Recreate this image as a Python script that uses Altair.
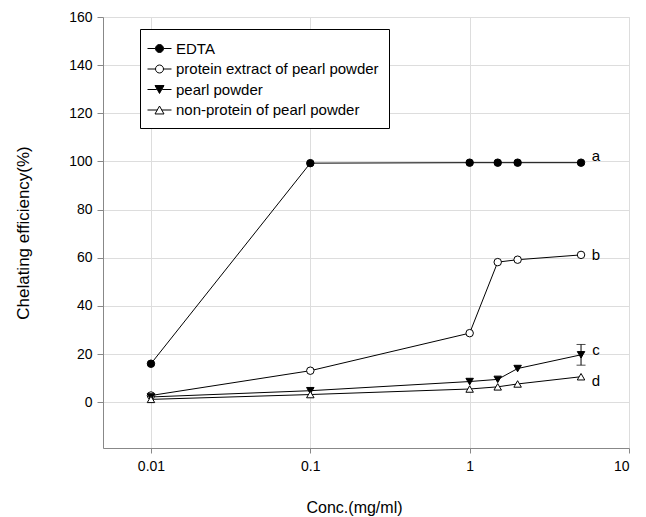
import altair as alt
import pandas as pd

conc = [0.01, 0.1, 1, 1.5, 2, 5]
series = ["EDTA", "protein extract of pearl powder", "pearl powder", "non-protein of pearl powder"]
edta = [16.0, 99.3, 99.5, 99.5, 99.5, 99.5]
protein = [2.8, 13.1, 28.7, 58.2, 59.2, 61.2]
pearl = [2.2, 4.8, 8.6, 9.5, 14.0, 19.7]
nonprot = [1.2, 3.2, 5.5, 6.4, 7.6, 10.6]
pearl_sd = [0, 0, 0, 0, 0, 4.3]
letters = ["a", "b", "c", "d"]
letter_y = [102.4, 61.2, 21.8, 8.9]

x_ticks = [0.01, 0.1, 1, 10]
y_ticks = [0, 20, 40, 60, 80, 100, 120, 140, 160]

fills = ["black", "white", "black", "white"]
point_shapes = ["circle", "circle", "triangle-down", "triangle-up"]
legend_shapes = [
    "M-1.333,0H-0.444M0.444,0H1.333M-0.444,0A0.444,0.444,0,1,0,0.444,0A0.444,0.444,0,1,0,-0.444,0Z",
    "M-1.333,0H-0.444M0.444,0H1.333M-0.444,0A0.444,0.444,0,1,0,0.444,0A0.444,0.444,0,1,0,-0.444,0Z",
    "M-1.333,0H-0.3M0.3,0H1.333M-0.5,-0.44L0.5,-0.44L0,0.44Z",
    "M-1.333,0H-0.25M0.25,0H1.333M-0.5,0.44L0.5,0.44L0,-0.44Z",
]

rows = []
for name, vals in zip(series, [edta, protein, pearl, nonprot]):
    for c, v in zip(conc, vals):
        rows.append({"conc": c, "value": v, "series": name})
df = pd.DataFrame(rows)

err = pd.DataFrame({"conc": conc, "mid": pearl, "sd": pearl_sd})
err["lo"] = err["mid"] - err["sd"]
err["hi"] = err["mid"] + err["sd"]
err = err[err["sd"] > 0]

lab = pd.DataFrame({"letter": letters, "y": letter_y, "conc": [conc[-1]] * 4})

FONT = "Liberation Sans"

xscale = alt.Scale(type="log", domain=[0.005, 10], nice=False)
yscale = alt.Scale(domain=[-19, 160], nice=False, zero=False)

xenc = alt.X("conc:Q", scale=xscale,
             axis=alt.Axis(values=x_ticks, format="~g", title="Conc.(mg/ml)",
                           tickSize=5, labelPadding=6, labelFontSize=14,
                           titleFontSize=16, titlePadding=26, titleX=251,
                           titleFontWeight="normal", titleFont=FONT))
yenc = alt.Y("value:Q", scale=yscale,
             axis=alt.Axis(values=y_ticks, title="Chelating efficiency(%)",
                           tickSize=6, labelPadding=5, labelFontSize=14,
                           titleFontSize=17, titlePadding=36,
                           titleFontWeight="normal", titleFont=FONT))

base = alt.Chart(df)

lines = base.mark_line(color="black", strokeWidth=1).encode(
    x=xenc, y=yenc, detail="series:N"
)

point_layers = []
for name, shp, fc in zip(series, point_shapes, fills):
    point_layers.append(
        base.transform_filter(alt.datum.series == name).mark_point(
            opacity=1, stroke="black", strokeWidth=1, size=56, shape=shp, fill=fc, filled=True
        ).encode(x="conc:Q", y="value:Q")
    )

legend_layer = base.transform_filter(alt.datum.conc < 0).mark_point(
    opacity=1, strokeWidth=1
).encode(
    x="conc:Q", y="value:Q",
    shape=alt.Shape("series:N", scale=alt.Scale(domain=series, range=legend_shapes),
                    legend=alt.Legend(title=None, orient="none", legendX=37, legendY=12,
                                      strokeColor="black", fillColor="white", padding=10,
                                      labelFont=FONT, labelFontSize=15, labelColor="black",
                                      labelLimit=400,
                                      symbolSize=324, rowPadding=2.5, labelOffset=7,
                                      symbolStrokeColor="black", symbolStrokeWidth=1)),
    fill=alt.Fill("series:N", scale=alt.Scale(domain=series, range=fills), legend=None),
    stroke=alt.Stroke("series:N", scale=alt.Scale(domain=series, range=["black"] * 4), legend=None),
)

err_rule = alt.Chart(err).mark_rule(color="black", strokeWidth=1).encode(
    x="conc:Q", y="lo:Q", y2="hi:Q"
)
err_lo = alt.Chart(err).mark_tick(color="black", orient="horizontal", size=9, thickness=1).encode(
    x="conc:Q", y="lo:Q"
)
err_hi = alt.Chart(err).mark_tick(color="black", orient="horizontal", size=9, thickness=1).encode(
    x="conc:Q", y="hi:Q"
)

texts = alt.Chart(lab).mark_text(font=FONT, fontSize=15, color="black", dx=15, align="center",
                                 baseline="middle").encode(
    x="conc:Q", y="y:Q", text="letter:N"
)

chart = alt.layer(lines, err_rule, err_lo, err_hi, *point_layers, legend_layer, texts).properties(
    width=526, height=431,
    autosize=alt.AutoSizeParams(type="none"),
    padding={"left": 95, "top": 9, "right": 9, "bottom": 68},
).configure_view(
    stroke="black", strokeWidth=1
).configure_axis(
    grid=False, domainColor="black", tickColor="black", labelColor="black",
    titleColor="black", labelFont=FONT, titleFont=FONT, titleFontWeight="normal",
    domainWidth=1, tickWidth=1
).configure(background="white")

chart.save("out.html", embed_options={"renderer": "svg", "actions": False})
